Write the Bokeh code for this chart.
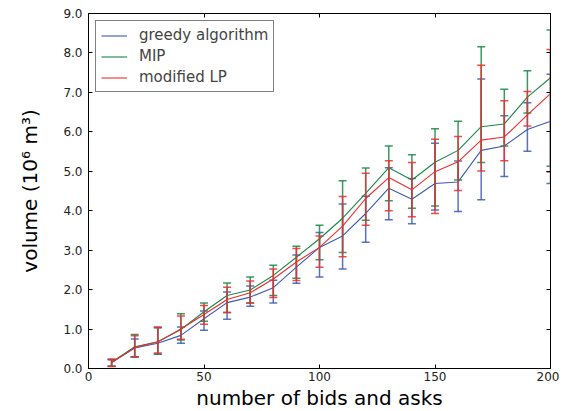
from bokeh.plotting import figure
from bokeh.models import (Range1d, LinearAxis, FixedTicker, PrintfTickFormatter,
                          CustomJSTickFormatter, Legend, LegendItem, ColumnDataSource)
from bokeh.embed import file_html
from bokeh.resources import INLINE

n_bids = [10, 20, 30, 40, 50, 60, 70, 80, 90, 100, 110, 120, 130, 140, 150, 160, 170, 180, 190, 200]

greedy_mean = [0.15, 0.52, 0.64, 0.84, 1.26, 1.67, 1.81, 2.05, 2.57, 3.07, 3.36, 3.93, 4.57, 4.29, 4.69, 4.73, 5.53, 5.64, 6.06, 6.27]
greedy_upper = [0.22, 0.75, 1.03, 1.05, 1.46, 1.94, 2.09, 2.24, 2.88, 3.45, 4.17, 4.37, 5.09, 4.82, 5.71, 5.26, 7.34, 6.41, 6.74, 7.46]
greedy_lower = [0.06, 0.29, 0.36, 0.64, 0.97, 1.25, 1.58, 1.66, 2.16, 2.32, 2.52, 3.20, 3.77, 3.67, 4.02, 3.98, 4.28, 4.87, 5.51, 4.69]

mip_mean = [0.16, 0.55, 0.68, 0.99, 1.44, 1.85, 1.99, 2.36, 2.82, 3.29, 3.81, 4.44, 5.09, 4.78, 5.23, 5.53, 6.13, 6.20, 6.88, 7.37]
mip_upper = [0.23, 0.86, 1.04, 1.39, 1.66, 2.17, 2.32, 2.62, 3.10, 3.63, 4.76, 5.08, 5.64, 5.42, 6.08, 6.27, 8.16, 7.08, 7.55, 8.58]
mip_lower = [0.06, 0.29, 0.37, 0.72, 1.20, 1.42, 1.66, 1.85, 2.29, 2.76, 2.94, 3.76, 4.25, 4.06, 4.12, 4.78, 5.22, 5.64, 6.48, 5.13]

lp_mean = [0.15, 0.53, 0.67, 1.00, 1.37, 1.75, 1.92, 2.27, 2.70, 3.07, 3.61, 4.31, 4.84, 4.53, 4.99, 5.24, 5.79, 5.87, 6.43, 6.97]
lp_upper = [0.24, 0.83, 1.05, 1.33, 1.60, 2.06, 2.22, 2.52, 3.04, 3.36, 4.36, 4.95, 5.27, 5.22, 5.81, 5.88, 7.69, 6.79, 7.02, 8.09]
lp_lower = [0.05, 0.30, 0.39, 0.74, 1.12, 1.42, 1.66, 1.80, 2.23, 2.57, 2.83, 3.63, 4.00, 3.85, 3.93, 4.51, 5.01, 5.27, 6.15, 4.98]

series_names = ["greedy algorithm", "MIP", "modified LP"]
series_colors = ["#3b5bb5", "#1a8748", "#ee2d2d"]

x_ticks = [0, 50, 100, 150, 200]
y_ticks = [0, 1, 2, 3, 4, 5, 6, 7, 8, 9]

FONT = "DejaVu Sans"

p = figure(frame_width=462, frame_height=355, output_backend="svg", toolbar_location=None,
           x_range=Range1d(0, 200), y_range=Range1d(0, 9),
           min_border_left=88, min_border_right=9, min_border_top=13, min_border_bottom=36)
p.background_fill_color = "white"
p.border_fill_color = "white"
p.outline_line_color = "black"
p.outline_line_width = 1
p.xgrid.visible = False
p.ygrid.visible = False

for ax in (p.xaxis[0], p.yaxis[0]):
    ax.major_tick_in = 4
    ax.major_tick_out = 0
    ax.minor_tick_line_color = None
    ax.axis_line_color = "black"
    ax.major_label_text_font = FONT
    ax.major_label_text_font_size = "12px"
    ax.major_label_text_color = "#222222"
    ax.axis_label_text_font = FONT
    ax.axis_label_text_font_size = "20px"
    ax.axis_label_text_font_style = "normal"
    ax.axis_label_text_color = "black"

p.xaxis[0].ticker = FixedTicker(ticks=x_ticks)
p.yaxis[0].ticker = FixedTicker(ticks=y_ticks)
p.yaxis[0].formatter = PrintfTickFormatter(format="%.1f")
p.xaxis[0].axis_label = "number of bids and asks"
p.yaxis[0].axis_label = "volume (10\u2076 m\u00b3)"
p.xaxis[0].major_label_standoff = 3
p.xaxis[0].axis_label_standoff = 2
p.yaxis[0].major_label_standoff = 6
p.yaxis[0].axis_label_standoff = 18

blank = CustomJSTickFormatter(code="return ''")
top_axis = LinearAxis(ticker=FixedTicker(ticks=x_ticks), formatter=blank,
                      major_tick_in=4, major_tick_out=0, minor_tick_line_color=None,
                      major_label_standoff=0, major_label_text_font_size="1px")
right_axis = LinearAxis(ticker=FixedTicker(ticks=y_ticks), formatter=blank,
                        major_tick_in=4, major_tick_out=0, minor_tick_line_color=None,
                        major_label_standoff=0, major_label_text_font_size="1px")
p.add_layout(top_axis, "above")
p.add_layout(right_axis, "right")

items = []
for name, color, mean, lo, hi in zip(series_names, series_colors,
                                     [greedy_mean, mip_mean, lp_mean],
                                     [greedy_lower, mip_lower, lp_lower],
                                     [greedy_upper, mip_upper, lp_upper]):
    src = ColumnDataSource(dict(x=n_bids, mean=mean, lo=lo, hi=hi))
    p.segment(x0="x", y0="lo", x1="x", y1="hi", source=src,
              line_color=color, line_width=1.5, line_alpha=0.85)
    p.scatter(x="x", y="lo", source=src, marker="dash", size=8,
              line_color=color, line_width=1.5, line_alpha=0.85)
    p.scatter(x="x", y="hi", source=src, marker="dash", size=8,
              line_color=color, line_width=1.5, line_alpha=0.85)
    ln = p.line(x="x", y="mean", source=src, line_color=color, line_width=1.1)
    items.append(LegendItem(label=name, renderers=[ln]))

legend = Legend(items=items, location="top_left", margin=7, padding=5,
                spacing=3, glyph_width=26, glyph_height=15, label_height=15,
                label_standoff=12, label_text_font=FONT, label_text_font_size="15px",
                border_line_color="black", border_line_width=1,
                background_fill_color="white", background_fill_alpha=1)
p.add_layout(legend)

open("out.html", "w").write(file_html(p, INLINE))
